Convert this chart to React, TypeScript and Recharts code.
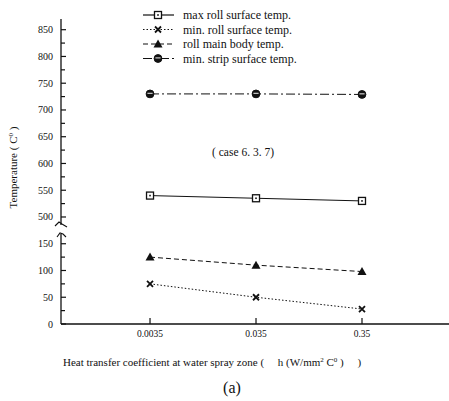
import { LineChart, Line, XAxis, YAxis, Label } from 'recharts';

// heat transfer coefficient h (W/mm^2 C)
const hValues = [0.0035, 0.035, 0.35];

// temperatures (C)
const maxRollSurface = [540, 535, 530];
const minRollSurface = [75, 50, 28];
const rollMainBody = [125, 110, 98];
const minStripSurface = [730, 730, 729];

const yTickValues = [0, 25, 50, 75, 100, 125, 150, 500, 525, 550, 575, 600, 625, 650, 675, 700, 725, 750, 775, 800, 825, 850];

// the y axis is broken between 150 and 500
const BREAK_FROM = 500;
const BREAK_SHIFT = 300;
const toAxis = (v: number) => (v >= BREAK_FROM ? v - BREAK_SHIFT : v);
const fromAxis = (v: number) => (v >= BREAK_FROM - BREAK_SHIFT ? v + BREAK_SHIFT : v);

const FONT = '"Liberation Serif", "Times New Roman", serif';
const INK = '#111';

const data = hValues.map((h, i) => ({
  h,
  maxRoll: maxRollSurface[i],
  minRoll: minRollSurface[i],
  body: rollMainBody[i],
  strip: minStripSurface[i],
}));

type DotProps = { cx?: number; cy?: number; index?: number };

const SquareDot = ({ cx = 0, cy = 0 }: DotProps) => (
  <g>
    <rect x={cx - 3.5} y={cy - 3.5} width={7} height={7} fill="#fff" stroke={INK} strokeWidth={1.3} />
    <rect x={cx - 0.8} y={cy - 0.8} width={1.6} height={1.6} fill={INK} />
  </g>
);

const CrossDot = ({ cx = 0, cy = 0 }: DotProps) => (
  <path d={`M${cx - 3} ${cy - 3} L${cx + 3} ${cy + 3} M${cx + 3} ${cy - 3} L${cx - 3} ${cy + 3}`} stroke={INK} strokeWidth={1.8} />
);

const TriangleDot = ({ cx = 0, cy = 0 }: DotProps) => (
  <path d={`M${cx} ${cy - 4.5} L${cx + 4.5} ${cy + 3.5} L${cx - 4.5} ${cy + 3.5} Z`} fill={INK} />
);

// mostly dark circle with a light band across the top half
const CircleDot = ({ cx = 0, cy = 0 }: DotProps) => (
  <g>
    <circle cx={cx} cy={cy} r={3.9} fill={INK} stroke={INK} strokeWidth={1} />
    <path d={`M${cx - 2.6} ${cy - 0.6} L${cx + 2.6} ${cy - 0.6}`} stroke="#ddd" strokeWidth={1.1} />
  </g>
);

const series = [
  { key: 'maxRoll', name: 'max roll surface temp.', dash: undefined, Dot: SquareDot },
  { key: 'minRoll', name: 'min. roll surface temp.', dash: '1.5 2', Dot: CrossDot },
  { key: 'body', name: 'roll main body temp.', dash: '5 3', Dot: TriangleDot },
  { key: 'strip', name: 'min. strip surface temp.', dash: '9 3 2 3', Dot: CircleDot },
];

const YTick = ({ x, y, payload }: any) => {
  const real = fromAxis(payload.value);
  const major = real % 50 === 0;
  return (
    <g>
      <line x1={x} x2={x + (major ? 5 : 4)} y1={y} y2={y} stroke={INK} strokeWidth={1.2} />
      {major && (
        <text x={x - 8} y={y} dy={3.5} textAnchor="end" fontSize={10} fontFamily={FONT} fill={INK}>
          {real}
        </text>
      )}
    </g>
  );
};

const XTick = ({ x, y, payload }: any) => (
  <g>
    <line x1={x} x2={x} y1={y} y2={y - 6} stroke={INK} strokeWidth={1.2} />
    <text x={x} y={y} dy={13} textAnchor="middle" fontSize={9.5} fontFamily={FONT} fill={INK}>
      {String(payload.value)}
    </text>
  </g>
);

const App = () => {
  return (
    <div style={{ position: 'absolute', left: 0, top: 0, width: 449, height: 401, background: '#fff' }}>
      <LineChart width={449} height={401} data={data} margin={{ top: 19, right: 0, bottom: 0, left: 0 }}>
        <XAxis
          dataKey="h"
          type="number"
          scale="log"
          domain={[0.000506, 2.317]}
          allowDataOverflow
          ticks={hValues}
          height={77}
          tickSize={0}
          tickMargin={0}
          tick={<XTick />}
          axisLine={{ stroke: INK, strokeWidth: 1.3 }}
        />
        <YAxis
          type="number"
          domain={[0, 570]}
          allowDataOverflow
          ticks={yTickValues.map(toAxis)}
          interval={0}
          width={61}
          tickSize={0}
          tickMargin={0}
          tick={<YTick />}
          axisLine={{ stroke: INK, strokeWidth: 1.3 }}
        >
          <Label
            content={({ viewBox }: any) => {
              const cx = 17;
              const cy = viewBox.y + viewBox.height / 2 - 4;
              return (
                <text x={cx} y={cy} transform={`rotate(-90 ${cx} ${cy})`} textAnchor="middle" fontSize={11} fontFamily={FONT} fill={INK}>
                  Temperature (  C
                  <tspan dy={-4} fontSize={7}>0</tspan>
                  <tspan dy={4}>  )</tspan>
                </text>
              );
            }}
          />
        </YAxis>
        {series.map((s) => (
          <Line
            key={s.key}
            dataKey={(d: any) => toAxis(d[s.key])}
            name={s.name}
            stroke={INK}
            strokeWidth={1}
            strokeDasharray={s.dash}
            dot={(p: any) => <s.Dot key={`${s.key}-${p.index}`} cx={p.cx} cy={p.cy} />}
            activeDot={false}
            isAnimationActive={false}
          />
        ))}
      </LineChart>
      <svg width={449} height={401} style={{ position: 'absolute', left: 0, top: 0, pointerEvents: 'none' }}>
        {/* axis break */}
        <rect x={55} y={225} width={12} height={9} fill="#fff" />
        <path d="M55 226 L59 222 L62 224 L67 227" fill="none" stroke={INK} strokeWidth={1.1} />
        <path d="M57 237 L60 233 L63 234 L66 237" fill="none" stroke={INK} strokeWidth={1.1} />
        {/* legend */}
        {series.map((s, i) => {
          const y = 15 + i * 14.5;
          return (
            <g key={s.key}>
              <line x1={143} x2={174} y1={y} y2={y} stroke={INK} strokeWidth={1.2} strokeDasharray={s.dash} />
              <s.Dot cx={158} cy={y} />
              <text x={183} y={y} dy={4} fontSize={12} fontFamily={FONT} fill={INK}>
                {s.name}
              </text>
            </g>
          );
        })}
        <text x={243} y={156} textAnchor="middle" fontSize={11.5} fontFamily={FONT} fill={INK}>
          ( case 6. 3. 7)
        </text>
        <text x={63} y={366} fontSize={11} fontFamily={FONT} fill={INK} xmlSpace="preserve">
          Heat transfer coefficient at water spray zone (     h (W/mm
          <tspan dy={-4} fontSize={7}>2</tspan>
          <tspan dy={4}> C</tspan>
          <tspan dy={-4} fontSize={7}>0</tspan>
          <tspan dy={4}> )     )</tspan>
        </text>
        <text x={232} y={393} textAnchor="middle" fontSize={16} fontFamily={FONT} fill={INK}>
          (a)
        </text>
      </svg>
    </div>
  );
};

export default App;
